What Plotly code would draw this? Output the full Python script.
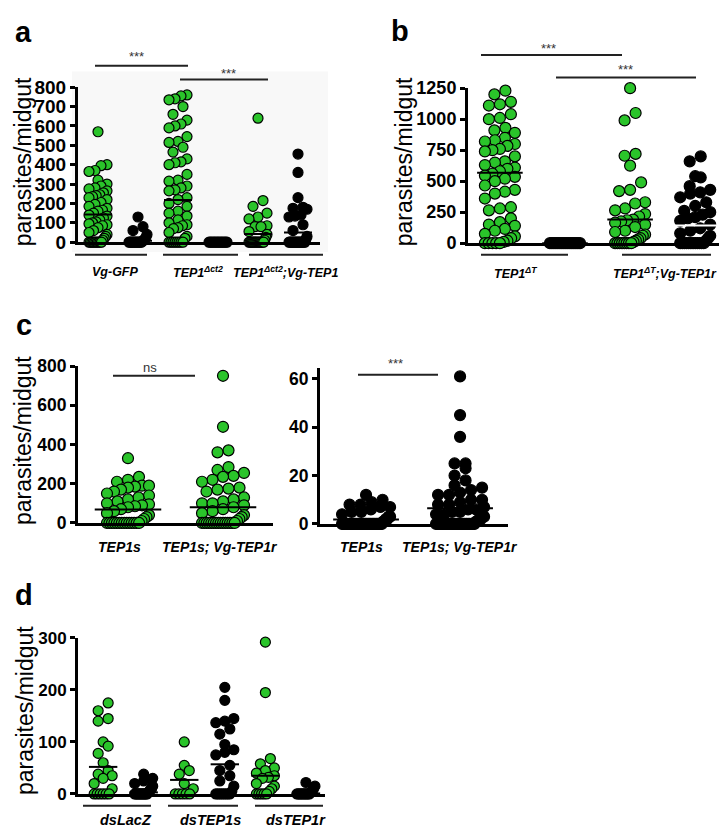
import plotly.graph_objects as go

# ---------------- DATA ----------------
# Panel a
a_labels = ["Vg-GFP", "TEP1<sup>Δct2</sup>", "TEP1<sup>Δct2</sup>;Vg-TEP1"]
a_vg_gfp_green = [570, 400, 395, 370, 365, 320, 300, 290, 280, 275, 265, 255, 245, 240, 235, 230,
                  220, 205, 195, 185, 175, 165, 160, 150, 140, 135, 125, 115, 105, 100, 95, 90, 85,
                  75, 60, 50, 40, 30, 20, 10, 0, 0, 0, 0, 0, 0, 0, 0, 0, 0]
a_vg_gfp_black = [130, 80, 60, 40, 25, 15, 10, 5, 0, 0, 0, 0, 0, 0, 0, 0, 0, 0, 0, 0]
a_ct2_green = [760, 755, 740, 735, 700, 660, 630, 610, 600, 590, 545, 520, 515, 490, 465, 430,
               415, 410, 400, 350, 320, 315, 290, 280, 270, 265, 230, 220, 200, 185, 160, 150,
               135, 115, 100, 90, 85, 75, 70, 50, 30, 20, 0, 0, 0, 0, 0, 0, 0, 0]
a_ct2_black = [0] * 14
a_ct2vg_green = [640, 215, 185, 150, 130, 120, 85, 80, 80, 55, 40, 25, 10] + [0] * 14
a_ct2vg_black = [455, 360, 230, 180, 175, 170, 140, 135, 130, 90, 60, 30, 15] + [0] * 16
a_means = [143, 8, 218, 0, 42, 50]

# Panel b
b_labels = ["TEP1<sup>ΔT</sup>", "TEP1<sup>ΔT</sup>;Vg-TEP1r"]
b_dT_green = [1230, 1200, 1140, 1120, 1110, 1040, 1010, 1000, 930, 910, 890, 850, 830, 820, 800,
              785, 760, 750, 740, 700, 660, 650, 630, 610, 600, 580, 560, 545, 535, 520, 500, 465,
              430, 415, 400, 360, 290, 280, 265, 200, 170, 150, 140, 115, 100, 75, 55, 40, 20, 10,
              0, 0, 0, 0, 0]
b_dT_black = [0] * 16
b_dTvg_green = [1250, 1050, 990, 720, 705, 625, 490, 430, 420, 330, 320, 280, 265, 235, 215, 190,
                185, 175, 165, 150, 130, 100, 90, 70, 60, 40, 30, 20, 10, 0, 0, 0, 0, 0, 0, 0, 0]
b_dTvg_black = [700, 660, 540, 530, 460, 430, 410, 400, 370, 330, 300, 260, 250, 230, 210, 200,
                180, 150, 120, 100, 80, 60, 40, 20] + [0] * 12
b_means = [568, 0, 190, 142]

# Panel c
c_labels = ["TEP1s", "TEP1s; Vg-TEP1r"]
c_s_green = [330, 235, 220, 210, 190, 190, 185, 180, 170, 160, 150, 140, 130, 120, 110, 100, 95,
             90, 85, 80, 70, 60, 50, 40, 30, 20, 10] + [0] * 14
c_svg_green = [750, 490, 370, 360, 285, 270, 255, 240, 235, 220, 210, 180, 175, 170, 160, 130,
               120, 110, 100, 100, 90, 80, 70, 60, 50, 40, 30, 20, 10] + [0] * 15
c_green_means = [68, 80]
c_s_black = [12, 10, 9, 8, 8, 7, 7, 6, 5, 5, 4, 3, 3, 2, 2, 1, 1] + [0] * 30
c_svg_black = [61, 45, 36, 25, 25, 23, 20, 18, 16, 15, 14, 13, 12, 12, 10, 10, 9, 8, 8, 7, 6, 6,
               5, 5, 4, 4, 3, 3, 2, 2, 1, 1] + [0] * 25
c_black_means = [1.8, 6.5]

# Panel d
d_labels = ["dsLacZ", "dsTEP1s", "dsTEP1r"]
d_lacz_green = [175, 160, 145, 140, 100, 92, 78, 60, 45, 38, 35, 30, 20, 10] + [0] * 6
d_lacz_black = [38, 30, 25, 20, 15, 10, 8, 5, 3] + [0] * 12
d_s_green = [100, 55, 45, 38, 20, 10] + [0] * 5
d_s_black = [205, 180, 145, 140, 137, 125, 115, 95, 85, 80, 75, 55, 45, 35, 25, 15, 5] + [0] * 8
d_r_green = [292, 195, 68, 58, 50, 45, 40, 35, 32, 30, 20, 15, 10, 5] + [0] * 5
d_r_black = [22, 15, 10, 5, 3] + [0] * 10
d_means = [52, 3, 27, 57, 35, 1]

sig_a = ["***", "***"]
sig_b = ["***", "***"]
sig_c = ["ns", "***"]

# ---------------- LAYOUT HELPERS ----------------
W, H = 727, 833
GREEN = "#2ac42a"
FONT = "Liberation Sans, Arial, sans-serif"


def px(x):
    return x / W


def py(y):
    return 1 - y / H


fig = go.Figure()

# panel geometry (pixels)
panels = {
    "a": dict(x0=70, x1=312, yb=230, yt=71, yr=[0, 800], xr=[-0.5, 5.55],
              tv=list(range(0, 801, 100)), ms=10, hw=9, tf=19),
    "b": dict(x0=460, x1=723, yb=231, yt=72, yr=[0, 1250], xr=[-0.49, 3.55],
              tv=[0, 250, 500, 750, 1000, 1250], ms=11, hw=15, tf=18),
    "c1": dict(x0=70, x1=265, yb=518, yt=357, yr=[0, 800], xr=[-0.526, 1.526],
               tv=[0, 200, 400, 600, 800], ms=11, hw=21, tf=17.5),
    "c2": dict(x0=312, x1=500, yb=519, yt=359, yr=[0, 64.5], xr=[-0.49, 1.51],
               tv=[0, 20, 40, 60], ms=11, hw=24, tf=17.5),
    "d": dict(x0=70, x1=317, yb=796, yt=636, yr=[0, 300], xr=[-0.62, 5.47],
              tv=[0, 100, 200, 300], ms=10, hw=9, tf=17),
}


def swarm(vals, ppu, d, half):
    order = sorted(range(len(vals)), key=lambda i: vals[i])
    offs = [0.0] * len(vals)
    rows, cur, start = [], [], None
    for i in order:
        y = vals[i] * ppu
        if cur and y - start >= d * 0.85:
            rows.append(cur)
            cur = []
        if not cur:
            start = y
        cur.append(i)
    if cur:
        rows.append(cur)
    for row in rows:
        n = len(row)
        if n == 1:
            continue
        s = min(d, 2 * half / (n - 1))
        for k, i in enumerate(row):
            offs[i] = (k - (n - 1) / 2) * s
    return offs


axis_ids = {}
for n, (key, p) in enumerate(panels.items(), start=1):
    sfx = "" if n == 1 else str(n)
    axis_ids[key] = ("x" + sfx, "y" + sfx)
    fig.layout["xaxis" + sfx] = dict(
        domain=[px(p["x0"]), px(p["x1"])], range=p["xr"], anchor="y" + sfx,
        showline=True, linewidth=3, linecolor="black", showticklabels=False,
        ticks="", showgrid=False, zeroline=False, fixedrange=True)
    fig.layout["yaxis" + sfx] = dict(
        domain=[py(p["yb"]), py(p["yt"])], range=p["yr"], anchor="x" + sfx,
        showline=True, linewidth=3, linecolor="black", ticks="outside", ticklen=5,
        tickwidth=2.5, tickcolor="black", tickvals=p["tv"], showgrid=False, zeroline=False,
        tickfont=dict(family=FONT, size=p["tf"], color="black", weight="bold"), fixedrange=True)


def add_col(key, idx, vals, color, mean, mean_color="black"):
    p = panels[key]
    xa, ya = axis_ids[key]
    ppu = (p["yb"] - p["yt"]) / (p["yr"][1] - p["yr"][0])
    ppc = (p["x1"] - p["x0"]) / (p["xr"][1] - p["xr"][0])
    offs = swarm(vals, ppu, p["ms"], p["hw"])
    fig.add_trace(go.Scatter(
        x=[idx + o / ppc for o in offs], y=vals, mode="markers", xaxis=xa, yaxis=ya,
        cliponaxis=False, showlegend=False, hoverinfo="y",
        marker=dict(size=p["ms"], color=color, line=dict(color="black", width=1.2))))
    fig.add_trace(go.Scatter(
        x=[idx - 0.35, idx + 0.35], y=[mean, mean], mode="lines", xaxis=xa, yaxis=ya,
        cliponaxis=False, showlegend=False, hoverinfo="skip",
        line=dict(color=mean_color, width=2)))


for i, (v, c) in enumerate([(a_vg_gfp_green, GREEN), (a_vg_gfp_black, "black"),
                            (a_ct2_green, GREEN), (a_ct2_black, "black"),
                            (a_ct2vg_green, GREEN), (a_ct2vg_black, "black")]):
    add_col("a", i, v, c, a_means[i])
for i, (v, c) in enumerate([(b_dT_green, GREEN), (b_dT_black, "black"),
                            (b_dTvg_green, GREEN), (b_dTvg_black, "black")]):
    add_col("b", i, v, c, b_means[i], "white" if i == 3 else "black")
for i, v in enumerate([c_s_green, c_svg_green]):
    add_col("c1", i, v, GREEN, c_green_means[i])
for i, v in enumerate([c_s_black, c_svg_black]):
    add_col("c2", i, v, "black", c_black_means[i])
for i, (v, c) in enumerate([(d_lacz_green, GREEN), (d_lacz_black, "black"),
                            (d_s_green, GREEN), (d_s_black, "black"),
                            (d_r_green, GREEN), (d_r_black, "black")]):
    add_col("d", i, v, c, d_means[i])

shapes = []
ann = []


def hline(x0, x1, y, color="#222", w=2):
    shapes.append(dict(type="line", xref="paper", yref="paper", x0=px(x0), x1=px(x1),
                       y0=py(y), y1=py(y), line=dict(color=color, width=w)))


def text(x, y, t, size, bold=False, italic=False, angle=0, color="black"):
    if italic:
        t = "<i>" + t + "</i>"
    if bold:
        t = "<b>" + t + "</b>"
    ann.append(dict(x=px(x), y=py(y), xref="paper", yref="paper", text=t, showarrow=False,
                    xanchor="center", yanchor="middle", textangle=angle,
                    font=dict(family=FONT, size=size, color=color)))


shapes.append(dict(type="rect", xref="paper", yref="paper", x0=px(64), x1=px(320),
                   y0=py(240), y1=py(55), fillcolor="#f8f8f8", line=dict(width=0), layer="below"))

for L, x, y in [("a", 15, 14), ("b", 392, 13), ("c", 16, 315), ("d", 16, 592)]:
    text(x, y, L, 29, bold=True)

for x, y in [(15, 148), (396, 148), (15, 434), (17, 711)]:
    text(x, y, "parasites/midgut", 23, angle=-90)

hline(87, 180, 49); text(128, 40, sig_a[0], 13, color="#333")
hline(172, 260, 63); text(220, 57, sig_a[1], 13, color="#333")
hline(473, 614, 38); text(540, 31, sig_b[0], 13, color="#333")
hline(548, 688, 61); text(617, 53, sig_b[1], 13, color="#333")
hline(105, 187, 367); text(142, 359, sig_c[0], 13, color="#333")
hline(350, 430, 366); text(387, 354, sig_c[1], 13, color="#333")

for (x0, x1) in [(67, 139), (155, 230), (241, 315)]:
    hline(x0, x1, 243)
for cx, lab in zip([107, 190, 277], a_labels):
    text(cx, 261, lab, 12.5, bold=True, italic=True)
for (x0, x1) in [(473, 560), (614, 703)]:
    hline(x0, x1, 243)
for cx, lab in zip([508, 657], b_labels):
    text(cx, 262, lab, 12.5, bold=True, italic=True)
for cx, lab in zip([111, 212], c_labels):
    text(cx, 543, lab, 14, bold=True, italic=True)
for cx, lab in zip([353, 452], c_labels):
    text(cx, 543, lab, 14, bold=True, italic=True)
for (x0, x1) in [(75, 143), (160, 230), (247, 315)]:
    hline(x0, x1, 808)
for cx, lab in zip([118, 203, 288], d_labels):
    text(cx, 823, lab, 14.5, bold=True, italic=True)

fig.update_layout(width=W, height=H, margin=dict(l=0, r=0, t=0, b=0),
                  paper_bgcolor="white", plot_bgcolor="rgba(0,0,0,0)",
                  shapes=shapes, annotations=ann, showlegend=False)

fig.write_html("out.html")
